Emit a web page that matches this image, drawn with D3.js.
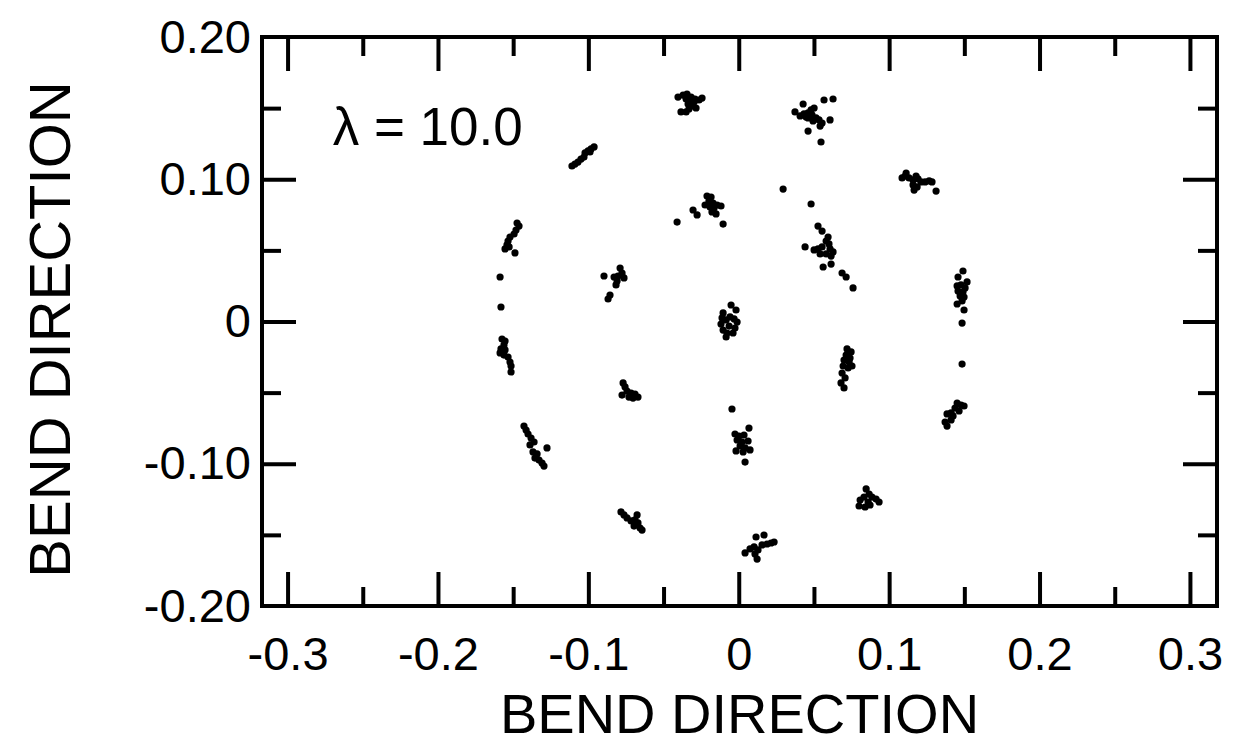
<!DOCTYPE html>
<html>
<head>
<meta charset="utf-8">
<script src="https://cdn.jsdelivr.net/npm/d3@7"></script>
<style>
  html, body { margin: 0; padding: 0; background: #fff; }
  svg { display: block; }
  text { font-family: "Liberation Sans", Arial, sans-serif; fill: #000; }
</style>
</head>
<body>
<svg id="chart" width="1241" height="749"></svg>
<script>
// Surface-of-section points, grouped by island (x, y in bend-direction units)
const islandTop = [[-0.0404,0.1578],[-0.0370,0.1592],[-0.0344,0.1599],[-0.0317,0.1578],[-0.0291,0.1564],[-0.0264,0.1557],[-0.0244,0.1571],[-0.0350,0.1564],[-0.0324,0.1550],[-0.0297,0.1543],[-0.0337,0.1529],[-0.0311,0.1515],[-0.0331,0.1494],[-0.0284,0.1501],[-0.0384,0.1473],[-0.0350,0.1473]];
const islandTopRight = [[0.0408,0.1445],[0.0434,0.1459],[0.0461,0.1466],[0.0487,0.1452],[0.0481,0.1487],[0.0501,0.1501],[0.0514,0.1431],[0.0534,0.1417],[0.0554,0.1395],[0.0461,0.1431],[0.0494,0.1410],[0.0541,0.1374],[0.0448,0.1438],[0.0374,0.1473],[0.0428,0.1529],[0.0567,0.1557],[0.0627,0.1564],[0.0607,0.1417],[0.0461,0.1339],[0.0547,0.1262]];
const islandUpperLeft = [[-0.1109,0.1093],[-0.1089,0.1107],[-0.1069,0.1121],[-0.1049,0.1142],[-0.1029,0.1156],[-0.1022,0.1185],[-0.1002,0.1199],[-0.0982,0.1213],[-0.0962,0.1227],[-0.0989,0.1192]];
const islandUpperRight = [[0.1106,0.1023],[0.1132,0.1009],[0.1159,0.0995],[0.1179,0.1023],[0.1192,0.1002],[0.1212,0.0981],[0.1239,0.0981],[0.1266,0.0988],[0.1285,0.0981],[0.1159,0.0960],[0.1186,0.0946],[0.1166,0.0924],[0.1113,0.1044],[0.1086,0.1009],[0.1312,0.0917]];
const islandInnerTop = [[-0.0211,0.0882],[-0.0184,0.0875],[-0.0198,0.0847],[-0.0171,0.0833],[-0.0144,0.0819],[-0.0118,0.0812],[-0.0191,0.0805],[-0.0164,0.0798],[-0.0178,0.0770],[-0.0151,0.0756],[-0.0224,0.0819],[-0.0410,0.0699],[-0.0304,0.0784],[-0.0277,0.0749],[-0.0104,0.0685]];
const islandInnerRight = [[0.0501,0.0503],[0.0527,0.0510],[0.0554,0.0524],[0.0581,0.0566],[0.0600,0.0545],[0.0607,0.0510],[0.0627,0.0489],[0.0614,0.0460],[0.0581,0.0475],[0.0541,0.0475],[0.0594,0.0594],[0.0527,0.0671],[0.0554,0.0636],[0.0441,0.0524],[0.0561,0.0383],[0.0614,0.0404],[0.0687,0.0341],[0.0714,0.0313],[0.0760,0.0236],[0.0295,0.0931],[0.0481,0.0826]];
const islandLeftUpper = [[-0.1474,0.0692],[-0.1461,0.0671],[-0.1481,0.0643],[-0.1494,0.0615],[-0.1521,0.0594],[-0.1534,0.0566],[-0.1541,0.0538],[-0.1554,0.0510],[-0.1527,0.0524],[-0.1488,0.0482],[-0.1587,0.0313],[-0.1581,0.0102]];
const islandLeftLower = [[-0.1574,-0.0123],[-0.1554,-0.0137],[-0.1561,-0.0165],[-0.1581,-0.0193],[-0.1554,-0.0200],[-0.1587,-0.0221],[-0.1561,-0.0236],[-0.1534,-0.0250],[-0.1521,-0.0285],[-0.1514,-0.0313],[-0.1514,-0.0355]];
const islandLowerLeft = [[-0.1428,-0.0735],[-0.1414,-0.0763],[-0.1401,-0.0791],[-0.1381,-0.0819],[-0.1361,-0.0847],[-0.1388,-0.0868],[-0.1275,-0.0889],[-0.1368,-0.0917],[-0.1341,-0.0931],[-0.1355,-0.0960],[-0.1328,-0.0974],[-0.1308,-0.0995],[-0.1295,-0.1016]];
const islandInnerLeft = [[-0.0789,0.0376],[-0.0776,0.0341],[-0.0803,0.0320],[-0.0829,0.0313],[-0.0763,0.0306],[-0.0809,0.0285],[-0.0816,0.0257],[-0.0896,0.0320],[-0.0856,0.0186],[-0.0869,0.0158]];
const islandRight = [[0.1452,0.0250],[0.1478,0.0257],[0.1505,0.0236],[0.1458,0.0214],[0.1491,0.0207],[0.1472,0.0179],[0.1498,0.0172],[0.1485,0.0144],[0.1458,0.0313],[0.1491,0.0355],[0.1518,0.0278],[0.1452,0.0123],[0.1498,0.0081],[0.1485,-0.0011],[0.1485,-0.0299]];
const islandLowerRight = [[0.1452,-0.0573],[0.1478,-0.0587],[0.1498,-0.0594],[0.1438,-0.0608],[0.1465,-0.0629],[0.1412,-0.0643],[0.1385,-0.0650],[0.1425,-0.0664],[0.1372,-0.0707],[0.1385,-0.0735],[0.1412,-0.0692]];
const islandCenter = [[-0.0051,0.0116],[-0.0018,0.0081],[-0.0104,0.0060],[-0.0111,0.0025],[-0.0084,0.0011],[-0.0058,0.0032],[-0.0031,0.0018],[-0.0011,-0.0004],[-0.0118,-0.0018],[-0.0064,-0.0032],[-0.0025,-0.0046],[-0.0104,-0.0060],[-0.0078,-0.0081],[-0.0038,-0.0081],[-0.0084,-0.0109]];
const islandInnerLowerLeft = [[-0.0769,-0.0432],[-0.0756,-0.0460],[-0.0743,-0.0489],[-0.0716,-0.0503],[-0.0690,-0.0510],[-0.0670,-0.0531],[-0.0730,-0.0531],[-0.0776,-0.0517],[-0.0703,-0.0538]];
const islandInnerBottom = [[-0.0045,-0.0615],[0.0068,-0.0749],[-0.0025,-0.0791],[0.0002,-0.0805],[0.0035,-0.0798],[-0.0011,-0.0833],[0.0022,-0.0847],[0.0062,-0.0840],[0.0009,-0.0875],[0.0042,-0.0889],[-0.0018,-0.0910],[0.0029,-0.0917],[0.0075,-0.0903],[0.0042,-0.0988]];
const islandInnerLowerRight = [[0.0720,-0.0193],[0.0747,-0.0214],[0.0714,-0.0236],[0.0740,-0.0257],[0.0700,-0.0271],[0.0734,-0.0285],[0.0694,-0.0313],[0.0727,-0.0327],[0.0753,-0.0313],[0.0687,-0.0362],[0.0707,-0.0397],[0.0680,-0.0432],[0.0700,-0.0467]];
const islandBottomLeft = [[-0.0783,-0.1339],[-0.0763,-0.1360],[-0.0743,-0.1381],[-0.0716,-0.1402],[-0.0690,-0.1395],[-0.0676,-0.1360],[-0.0670,-0.1416],[-0.0696,-0.1438],[-0.0656,-0.1452],[-0.0643,-0.1466]];
const islandBottom = [[0.0042,-0.1627],[0.0075,-0.1599],[0.0102,-0.1585],[0.0128,-0.1606],[0.0108,-0.1634],[0.0122,-0.1670],[0.0155,-0.1571],[0.0188,-0.1564],[0.0215,-0.1557],[0.0235,-0.1550],[0.0115,-0.1515],[0.0168,-0.1501]];
const islandBottomRight = [[0.0847,-0.1177],[0.0867,-0.1213],[0.0833,-0.1234],[0.0807,-0.1255],[0.0886,-0.1234],[0.0913,-0.1248],[0.0933,-0.1269],[0.0860,-0.1269],[0.0840,-0.1304],[0.0873,-0.1290],[0.0800,-0.1297]];

// Axis ticks and labels
const xMajorTicks = [-0.3, -0.2, -0.1, 0, 0.1, 0.2, 0.3];
const xMajorLabels = ["-0.3", "-0.2", "-0.1", "0", "0.1", "0.2", "0.3"];
const xMinorTicks = [-0.25, -0.15, -0.05, 0.05, 0.15, 0.25];
const yMajorTicks = [-0.2, -0.1, 0, 0.1, 0.2];
const yMajorLabels = ["-0.20", "-0.10", "0", "0.10", "0.20"];
const yInnerMajorTicks = [-0.1, 0, 0.1];
const yMinorTicks = [-0.15, -0.05, 0.05, 0.15];

const xTitle = "BEND DIRECTION";
const yTitle = "BEND DIRECTION";
const annotation = "λ = 10.0";

const islands = [islandTop, islandTopRight, islandUpperLeft, islandUpperRight, islandInnerTop,
  islandInnerRight, islandLeftUpper, islandLeftLower, islandLowerLeft, islandInnerLeft,
  islandRight, islandLowerRight, islandCenter, islandInnerLowerLeft, islandInnerBottom,
  islandInnerLowerRight, islandBottomLeft, islandBottom, islandBottomRight];

const svg = d3.select("#chart");
const plotLeft = 262, plotRight = 1217, plotTop = 37, plotBottom = 606;

const x = d3.scaleLinear().domain([-0.317, 0.318]).range([plotLeft, plotRight]);
const y = d3.scaleLinear().domain([-0.2, 0.2]).range([plotBottom, plotTop]);

const majorLen = 34, minorLen = 19, tickWidth = 4;
const tickFont = 47;

function styleAxis(g) {
  g.select(".domain").remove();
  g.selectAll(".tick line").attr("stroke", "#000").attr("stroke-width", tickWidth);
}

// bottom axis with labels
svg.append("g").attr("transform", `translate(0,${plotBottom})`)
  .call(d3.axisBottom(x).tickValues(xMajorTicks).tickSizeInner(-majorLen).tickSizeOuter(0)
    .tickPadding(31).tickFormat((d, i) => xMajorLabels[i]))
  .call(styleAxis)
  .call(g => g.selectAll(".tick text").attr("font-size", tickFont).attr("font-family", "Liberation Sans"));
svg.append("g").attr("transform", `translate(0,${plotBottom})`)
  .call(d3.axisBottom(x).tickValues(xMinorTicks).tickSizeInner(-minorLen).tickSizeOuter(0).tickFormat(""))
  .call(styleAxis);

// top axis
svg.append("g").attr("transform", `translate(0,${plotTop})`)
  .call(d3.axisTop(x).tickValues(xMajorTicks).tickSizeInner(-majorLen).tickSizeOuter(0).tickFormat(""))
  .call(styleAxis);
svg.append("g").attr("transform", `translate(0,${plotTop})`)
  .call(d3.axisTop(x).tickValues(xMinorTicks).tickSizeInner(-minorLen).tickSizeOuter(0).tickFormat(""))
  .call(styleAxis);

// left axis: labels at all majors, tick marks at inner majors and minors
svg.append("g").attr("transform", `translate(${plotLeft},0)`)
  .call(d3.axisLeft(y).tickValues(yMajorTicks).tickSizeInner(0).tickSizeOuter(0)
    .tickPadding(11).tickFormat((d, i) => yMajorLabels[i]))
  .call(styleAxis)
  .call(g => g.selectAll(".tick text").attr("font-size", tickFont).attr("font-family", "Liberation Sans"));
svg.append("g").attr("transform", `translate(${plotLeft},0)`)
  .call(d3.axisLeft(y).tickValues(yInnerMajorTicks).tickSizeInner(-majorLen).tickSizeOuter(0).tickFormat(""))
  .call(styleAxis);
svg.append("g").attr("transform", `translate(${plotLeft},0)`)
  .call(d3.axisLeft(y).tickValues(yMinorTicks).tickSizeInner(-minorLen).tickSizeOuter(0).tickFormat(""))
  .call(styleAxis);

// right axis
svg.append("g").attr("transform", `translate(${plotRight},0)`)
  .call(d3.axisRight(y).tickValues(yInnerMajorTicks).tickSizeInner(-majorLen).tickSizeOuter(0).tickFormat(""))
  .call(styleAxis);
svg.append("g").attr("transform", `translate(${plotRight},0)`)
  .call(d3.axisRight(y).tickValues(yMinorTicks).tickSizeInner(-minorLen).tickSizeOuter(0).tickFormat(""))
  .call(styleAxis);

// frame
svg.append("rect")
  .attr("x", plotLeft).attr("y", plotTop)
  .attr("width", plotRight - plotLeft).attr("height", plotBottom - plotTop)
  .attr("fill", "none").attr("stroke", "#000").attr("stroke-width", 4);

// points
svg.append("g").selectAll("g").data(islands).join("g")
  .selectAll("circle").data(d => d).join("circle")
  .attr("cx", d => x(d[0]))
  .attr("cy", d => y(d[1]))
  .attr("r", 3.6)
  .attr("fill", "#000");

// annotation
svg.append("text")
  .attr("x", x(-0.27)).attr("y", y(0.124))
  .attr("font-size", 53)
  .text(annotation);

// axis titles
svg.append("text")
  .attr("x", (plotLeft + plotRight) / 2).attr("y", 733)
  .attr("text-anchor", "middle")
  .attr("font-size", 56)
  .text(xTitle);

svg.append("text")
  .attr("transform", `translate(70,${(plotTop + plotBottom) / 2 + 8}) rotate(-90)`)
  .attr("text-anchor", "middle")
  .attr("font-size", 58)
  .text(yTitle);
</script>
</body>
</html>
